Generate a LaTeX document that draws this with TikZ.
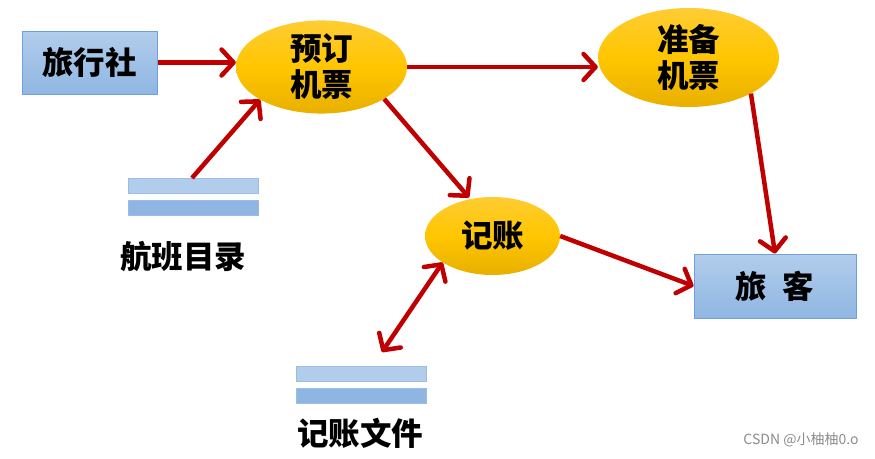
\documentclass[tikz,border=0pt]{standalone}
\usepackage{fontspec}
\newfontfamily\cjk{Noto Sans CJK SC}
\usetikzlibrary{shapes.geometric,arrows.meta}
\definecolor{arrowred}{HTML}{C00000}
\definecolor{boxtop}{HTML}{B2CDEC}
\definecolor{boxbot}{HTML}{8FB6E2}
\definecolor{boxline}{HTML}{6FA0D8}
\definecolor{elltop}{HTML}{FFCC33}
\definecolor{ellmid}{HTML}{FFC600}
\definecolor{ellbot}{HTML}{E8B000}
\tikzset{redtip/.tip={Straight Barb[length=12pt,width=26pt,line width=4.5pt,round]}}
\begin{document}
\begin{tikzpicture}[x=1pt,y=-1pt,
  every node/.style={font=\cjk\bfseries\fontsize{31.5}{36}\selectfont},
  entity/.style={rectangle, draw=boxline, line width=1pt, top color=boxtop, bottom color=boxbot, inner sep=0pt},
  proc/.style={ellipse, draw=none, top color=elltop, bottom color=ellbot, middle color=ellmid, inner sep=0pt, align=center},
  storebar/.style={rectangle, draw=boxline!70, line width=0.8pt, fill=boxbot, inner sep=0pt, minimum width=130pt, minimum height=15pt},
  flow/.style={draw=arrowred, line width=4.5pt, -{redtip}},
  bflow/.style={draw=arrowred, line width=4.5pt, {redtip}-{redtip}}
]
\useasboundingbox (0,0) rectangle (875,458);
\fill[white] (0,0) rectangle (875,458);

\node[entity, minimum width=135pt, minimum height=63pt] (lxs) at (89.5,62.5) {旅行社};
\node[proc, minimum width=171pt, minimum height=89pt] (ydjp) at (321.5,67) {预订\\机票};
\node[proc, minimum width=181pt, minimum height=99pt] (zbjp) at (688.5,57.5) {准备\\机票};
\node[proc, minimum width=135pt, minimum height=78pt] (jz) at (492.5,236) {记账};
\node[entity, minimum width=162pt, minimum height=64pt] (lk) at (775,286) {旅\hspace{0.5em}客};

\node[storebar, fill=boxtop] (hb1) at (193,185.5) {};
\node[storebar] (hb2) at (193,208) {};
\node (hbt) at (183,257) {航班目录};

\node[storebar, fill=boxtop] (jf1) at (361,373.5) {};
\node[storebar] (jf2) at (361,396) {};
\node (jft) at (360,433) {记账文件};

\node[font=\cjk\fontsize{14}{16}\selectfont, text=black!45, anchor=east] (wm) at (862,440) {CSDN @小柚柚0.o};

\coordinate (hbs) at (192,178);
\coordinate (jfs) at (382,352);

\draw[flow] (lxs.east) -- (ydjp.west |- lxs.east);
\draw[flow] (hbs) -- (ydjp.208);
\draw[flow] (ydjp.east) -- (zbjp.west |- ydjp.east);
\draw[flow, shorten >=2pt] (ydjp.-27) -- (jz.121);
\draw[flow] (zbjp.-30) -- (lk.north);
\draw[flow] (jz.east) -- (lk.west);
\draw[bflow] (jz.208) -- (jfs);
\end{tikzpicture}
\end{document}
